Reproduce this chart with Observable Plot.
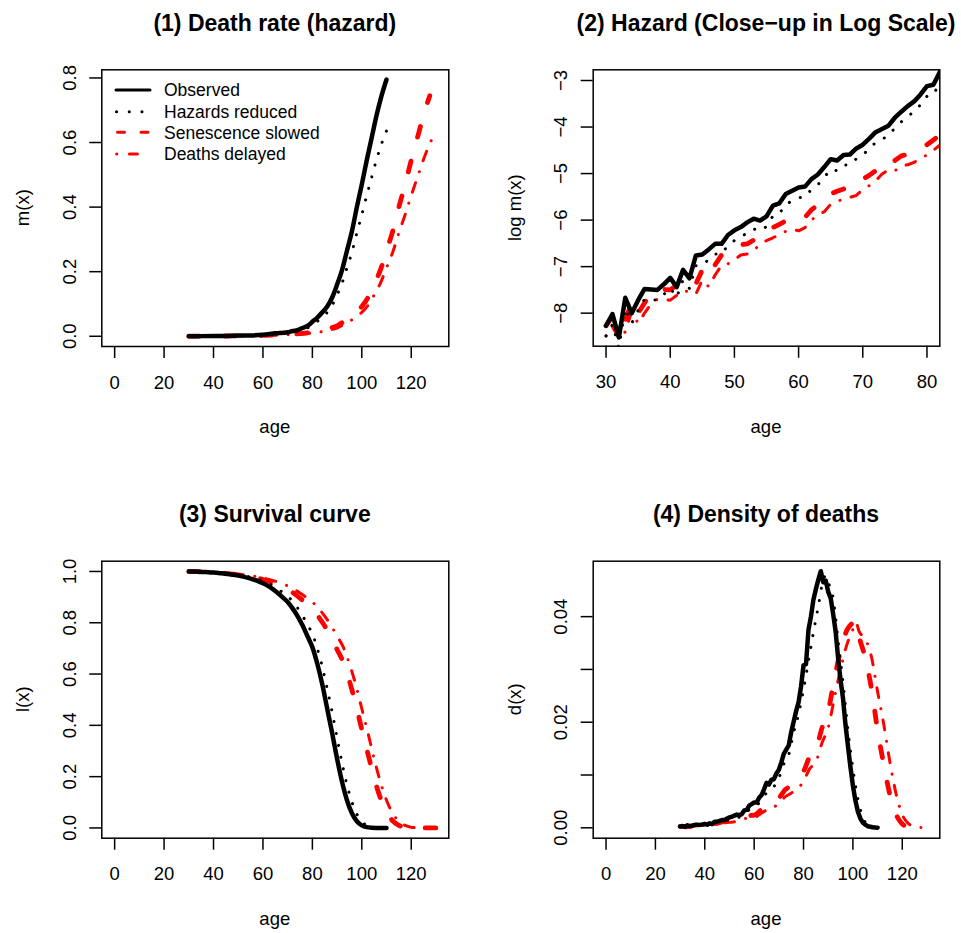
<!DOCTYPE html>
<html><head><meta charset="utf-8">
<script src="https://cdn.jsdelivr.net/npm/d3@7"></script>
<script src="https://cdn.jsdelivr.net/npm/@observablehq/plot@0.6"></script>
<style>
body{margin:0;background:#fff;}
#page{position:relative;width:961px;height:933px;overflow:hidden;background:#fff;font-family:"Liberation Sans",Arial,sans-serif;}
.panel{position:absolute;}
#overlay{position:absolute;left:0;top:0;pointer-events:none;}
</style></head><body><div id="page"></div>
<script>
// ---------- data ----------
const ages = [30,31,32,33,34,35,36,37,38,39,40,41,42,43,44,45,46,47,48,49,50,51,52,53,54,55,56,57,58,59,60,61,62,63,64,65,66,67,68,69,70,71,72,73,74,75,76,77,78,79,80,81,82,83,84,85,86,87,88,89,90,91,92,93,94,95,96,97,98,99,100,101,102,103,104,105,106,107,108,109,110];

// (1) hazard m(x)
const hazAge = [30,35,40,45,50,55,60,65,70,72,74,76,78,80,82,84,86,88,90,92,94,96,98,100,102,104,106,108,110];
const hazObserved = [0.00026,0.00043,0.00072,0.00117,0.002,0.0027,0.005,0.0092,0.0125,0.0164,0.0189,0.0255,0.0318,0.045,0.058,0.074,0.092,0.12,0.16,0.205,0.265,0.325,0.40,0.47,0.545,0.615,0.685,0.745,0.795];
const hazReduced = [0.0002,0.00034,0.00058,0.00094,0.0016,0.0022,0.004,0.0074,0.01,0.0131,0.0151,0.0204,0.0254,0.036,0.046,0.059,0.074,0.096,0.128,0.164,0.212,0.26,0.32,0.376,0.436,0.492,0.548,0.596,0.636];
const hazAgeLate = [30,40,50,60,70,80,82.5,85,87.5,90,92.5,95,97.5,100,102.5,105,107.5,110,112.5,115,117.5,120,122.5,125,127.5,130];
const hazSlowed = [0.00026,0.00055,0.0013,0.0025,0.006,0.0125,0.0164,0.0189,0.0255,0.0318,0.045,0.058,0.074,0.092,0.12,0.16,0.205,0.265,0.325,0.40,0.47,0.545,0.615,0.685,0.745];
const hazDelayed = [0.00021,0.00044,0.00104,0.002,0.0048,0.01,0.0131,0.0151,0.0204,0.0254,0.036,0.046,0.059,0.074,0.096,0.128,0.164,0.212,0.26,0.32,0.376,0.436,0.492,0.548,0.596,0.636];

// (2) log hazard, ages 30..82
const logObserved = [-8.27,-8.02,-8.52,-7.67,-8.0,-7.72,-7.48,-7.49,-7.50,-7.38,-7.24,-7.44,-7.07,-7.25,-6.76,-6.74,-6.63,-6.51,-6.51,-6.32,-6.22,-6.15,-6.05,-5.97,-6.01,-5.92,-5.69,-5.64,-5.44,-5.37,-5.30,-5.28,-5.12,-5.02,-4.86,-4.69,-4.72,-4.60,-4.59,-4.46,-4.38,-4.25,-4.11,-4.04,-3.97,-3.80,-3.67,-3.55,-3.45,-3.30,-3.12,-3.09,-2.82];
const logReduced = [-8.49,-8.24,-8.74,-7.89,-8.22,-7.94,-7.70,-7.71,-7.72,-7.60,-7.46,-7.66,-7.29,-7.47,-6.98,-6.96,-6.85,-6.73,-6.73,-6.54,-6.44,-6.37,-6.27,-6.19,-6.23,-6.14,-5.91,-5.86,-5.66,-5.59,-5.52,-5.50,-5.34,-5.24,-5.08,-4.91,-4.94,-4.82,-4.81,-4.68,-4.60,-4.47,-4.33,-4.26,-4.19,-4.02,-3.89,-3.77,-3.67,-3.52,-3.34,-3.31,-3.04];
const logSlowed = [-8.27,-8.07,-8.32,-8.18,-7.74,-8.0,-7.78,-7.58,-7.48,-7.49,-7.50,-7.40,-7.30,-7.32,-7.37,-7.07,-7.21,-6.96,-6.75,-6.72,-6.63,-6.53,-6.51,-6.43,-6.30,-6.22,-6.16,-6.09,-6.02,-5.98,-6.01,-5.94,-5.78,-5.67,-5.60,-5.44,-5.38,-5.33,-5.29,-5.25,-5.12,-5.04,-4.94,-4.79,-4.70,-4.72,-4.62,-4.59,-4.54,-4.45,-4.38,-4.28,-4.17];
const logDelayed = [-8.49,-8.29,-8.54,-8.40,-7.96,-8.22,-8.00,-7.80,-7.70,-7.71,-7.72,-7.62,-7.52,-7.54,-7.59,-7.29,-7.43,-7.18,-6.97,-6.94,-6.85,-6.75,-6.73,-6.65,-6.52,-6.44,-6.38,-6.31,-6.24,-6.20,-6.23,-6.16,-6.00,-5.89,-5.82,-5.66,-5.60,-5.55,-5.51,-5.47,-5.34,-5.26,-5.16,-5.01,-4.92,-4.94,-4.84,-4.81,-4.76,-4.67,-4.60,-4.50,-4.39];

// (3) survival l(x)
const survAge = [30,32,34,36,38,40,42,44,46,48,50,52,54,56,58,60,62,64,66,68,70,72,74,76,78,80,82,84,86,88,90,92,94,96,98,100,102,104,106,108,110];
const survAgeLate = [30,32.5,35,37.5,40,42.5,45,47.5,50,52.5,55,57.5,60,62.5,65,67.5,70,72.5,75,77.5,80,82.5,85,87.5,90,92.5,95,97.5,100,102.5,105,107.5,110,112.5,115,117.5,120,122.5,125,127.5,130];
const survObserved = [1.000,0.9996,0.999,0.998,0.997,0.9956,0.994,0.992,0.990,0.987,0.984,0.980,0.975,0.969,0.962,0.954,0.944,0.931,0.916,0.899,0.881,0.856,0.826,0.79,0.748,0.705,0.64,0.56,0.465,0.37,0.27,0.18,0.108,0.057,0.026,0.01,0.003,0.0008,0.0002,0.00005,0.00001];
const survReduced = [1.000,0.9997,0.9992,0.9984,0.9976,0.9965,0.9952,0.9936,0.992,0.9896,0.9872,0.984,0.980,0.975,0.9695,0.963,0.955,0.944,0.932,0.918,0.904,0.883,0.858,0.828,0.793,0.756,0.700,0.629,0.542,0.452,0.351,0.254,0.168,0.101,0.054,0.025,0.0095,0.0033,0.0011,0.0004,0.0001];
const survSlowed = [1.000,0.9995,0.99875,0.9975,0.99625,0.9945,0.9925,0.990,0.9875,0.9838,0.980,0.975,0.9688,0.9614,0.9527,0.9428,0.9305,0.9145,0.8961,0.8754,0.8535,0.8233,0.7874,0.7448,0.6956,0.646,0.5724,0.4844,0.384,0.2885,0.1946,0.1173,0.0619,0.0278,0.0104,0.0032,0.0007,0.0001,0,0,0];
const survDelayed = [1.000,0.9996,0.999,0.998,0.997,0.9956,0.994,0.992,0.990,0.987,0.984,0.980,0.975,0.969,0.962,0.954,0.944,0.931,0.916,0.899,0.881,0.856,0.826,0.79,0.748,0.705,0.64,0.56,0.465,0.37,0.27,0.18,0.108,0.057,0.026,0.01,0.003,0.0008,0.0002,0.00005,0.00001];

// (4) density of deaths d(x)
const densObserved = [0.00026,0.00033,0.0002,0.00047,0.00032,0.00043,0.00056,0.00056,0.00055,0.00062,0.00072,0.00059,0.00085,0.0007,0.00115,0.00117,0.0013,0.00147,0.00147,0.00177,0.00197,0.0021,0.0023,0.0025,0.0024,0.0026,0.0033,0.0034,0.0042,0.0045,0.0048,0.0048,0.0057,0.0062,0.0073,0.0085,0.0082,0.0091,0.0092,0.0103,0.011,0.0124,0.014,0.0148,0.0156,0.0181,0.0201,0.0221,0.0238,0.0268,0.0308,0.0310,0.0375,0.0400,0.0432,0.0452,0.0470,0.0486,0.0465,0.0468,0.0447,0.0435,0.0405,0.0372,0.0322,0.0280,0.0245,0.0195,0.0155,0.0115,0.0080,0.0052,0.0031,0.0018,0.0010,0.0006,0.0003,0.0002,0.0001,0.00005,0.00002];
const densRedAge = [30,32,34,36,38,40,42,44,46,48,50,52,54,56,58,60,62,64,66,68,70,72,74,76,78,80,82,84,86,88,89,90,92,94,96,98,100,102,104,106,108,110];
const densReduced = [0.0002,0.00017,0.00026,0.00045,0.00044,0.00058,0.00068,0.00093,0.00105,0.0012,0.0016,0.0019,0.002,0.0027,0.0034,0.004,0.0047,0.0061,0.0069,0.0078,0.0094,0.0121,0.0138,0.018,0.0215,0.0262,0.0316,0.037,0.042,0.047,0.0478,0.0465,0.0435,0.0355,0.0275,0.0185,0.0112,0.0055,0.002,0.0006,0.0002,0.0001];
const densAgeLate = [30,32.5,35,37.5,40,42.5,45,47.5,50,52.5,55,57.5,60,62.5,65,67.5,70,72.5,75,77.5,80,82.5,85,87.5,90,92.5,95,97.5,100,101.25,102.5,105,107.5,110,112.5,115,117.5,120,122.5,125,127.5,130];
const densSlowed = [0.00026,0.0002,0.00032,0.00056,0.00055,0.00072,0.00085,0.00115,0.0013,0.00147,0.00196,0.00229,0.00238,0.00327,0.00416,0.00474,0.00562,0.00717,0.00802,0.00896,0.01066,0.01347,0.01487,0.01895,0.02213,0.02822,0.03354,0.03737,0.03881,0.03905,0.03627,0.03222,0.02638,0.01846,0.01197,0.00622,0.00253,0.00073,0.00017,0.00004,0.00001,0];
const densDelayed = [0.00021,0.00016,0.00026,0.00045,0.00044,0.00058,0.00068,0.00092,0.00104,0.00118,0.00158,0.00184,0.00192,0.00264,0.00336,0.00384,0.00456,0.00584,0.00656,0.00736,0.0088,0.0112,0.0125,0.0161,0.019,0.0246,0.030,0.0346,0.0376,0.0389,0.0372,0.0358,0.0324,0.0258,0.0196,0.0124,0.0064,0.0025,0.0008,0.00024,0.00008,0.00002];

const seriesNames = ["Observed","Hazards reduced","Senescence slowed","Deaths delayed"];
const ageTicks = [0,20,40,60,80,100,120];
const closeAgeTicks = [30,40,50,60,70,80];
const hazTicks = [0,0.2,0.4,0.6,0.8];
const logTicks = [-8,-7,-6,-5,-4,-3];
const survTicks = [0,0.2,0.4,0.6,0.8,1];
const densTicks = [0,0.01,0.02,0.03,0.04];

// ---------- drawing ----------
const FONT = '"Liberation Sans", Arial, sans-serif';
const pts = (xs, ys) => ys.map((y, i) => ({x: xs[i], y}));
const STY = {
  obs:  {stroke: "black", w: 4.5, dash: null},
  red:  {stroke: "black", w: 3, dash: "0.1 11.9"},
  slow: {stroke: "#ff0000", w: 4.8, dash: "11 25"},
  del:  {stroke: "#ff0000", w: 3, dash: "0.1 11.5 10 11.5"}
};
const minus = d => d < 0 ? "\u2212" + Math.abs(d) : String(d);

function panel(o) {
  const marks = [
    Plot.frame({stroke: "black", strokeWidth: 1.5}),
    Plot.axisX({ticks: o.xTicks, tickSize: 12, tickPadding: 17, tickFormat: d => String(d), label: null, fontSize: 18.5, strokeWidth: 1.5}),
    Plot.axisY({ticks: o.yTicks, tickSize: 12, tickPadding: 14.3, tickRotate: -90, textAnchor: "middle", lineAnchor: "bottom", tickFormat: o.yFmt, label: null, fontSize: 18.5, strokeWidth: 1.5}),
    ...o.series.map(s => Plot.line(s.data, {
      x: "x", y: "y", stroke: s.st.stroke, strokeWidth: s.st.w,
      strokeDasharray: s.st.dash || undefined, strokeLinecap: "round", strokeLinejoin: "round",
      curve: s.curve || "linear", clip: true
    }))
  ];
  const svg = Plot.plot({
    width: o.width, height: o.height,
    marginTop: o.mt, marginBottom: o.mb, marginLeft: o.ml, marginRight: o.mr,
    x: {domain: o.xDomain}, y: {domain: o.yDomain},
    style: {fontFamily: FONT, fontSize: "18px", color: "black", background: "transparent", overflow: "visible"},
    marks
  });
  svg.classList.add("panel");
  svg.style.left = o.left + "px";
  svg.style.top = o.top + "px";
  document.getElementById("page").appendChild(svg);
}

const fmt1 = d => d.toFixed(1);

panel({left: 0, top: 0, width: 480, height: 466, mt: 69.3, mb: 120, ml: 101.3, mr: 31.7,
  xDomain: [-5.2, 135.2], yDomain: [-0.0317, 0.8252], xTicks: ageTicks, yTicks: hazTicks, yFmt: fmt1,
  series: [
    {data: pts(hazAgeLate, hazDelayed), st: STY.del, curve: "monotone-x"},
    {data: pts(hazAgeLate, hazSlowed), st: STY.slow, curve: "monotone-x"},
    {data: pts(hazAge, hazReduced), st: STY.red, curve: "monotone-x"},
    {data: pts(hazAge, hazObserved), st: STY.obs, curve: "monotone-x"}
  ]});

const closeAges = ages.slice(0, logObserved.length);
panel({left: 480, top: 0, width: 481, height: 466, mt: 69.3, mb: 120.3, ml: 112.7, mr: 21.7,
  xDomain: [28, 82], yDomain: [-8.71, -2.77], xTicks: closeAgeTicks, yTicks: logTicks, yFmt: minus,
  series: [
    {data: pts(closeAges, logDelayed), st: STY.del},
    {data: pts(closeAges, logSlowed), st: STY.slow},
    {data: pts(closeAges, logReduced), st: STY.red},
    {data: pts(closeAges, logObserved), st: STY.obs}
  ]});

panel({left: 0, top: 466, width: 480, height: 467, mt: 94.7, mb: 95.3, ml: 101.3, mr: 31.7,
  xDomain: [-5.2, 135.2], yDomain: [-0.04, 1.04], xTicks: ageTicks, yTicks: survTicks, yFmt: fmt1,
  series: [
    {data: pts(survAgeLate, survDelayed), st: STY.del, curve: "monotone-x"},
    {data: pts(survAgeLate, survSlowed), st: STY.slow, curve: "monotone-x"},
    {data: pts(survAge, survReduced), st: STY.red, curve: "monotone-x"},
    {data: pts(survAge, survObserved), st: STY.obs, curve: "monotone-x"}
  ]});

panel({left: 480, top: 466, width: 481, height: 467, mt: 94.7, mb: 95.3, ml: 112.7, mr: 21.7,
  xDomain: [-5.2, 135.2], yDomain: [-0.00197, 0.0505], xTicks: ageTicks, yTicks: densTicks,
  yFmt: d => (Math.round(d * 100) % 2 === 0 ? d.toFixed(2) : ""),
  series: [
    {data: pts(densAgeLate, densDelayed), st: STY.del, curve: "monotone-x"},
    {data: pts(densAgeLate, densSlowed), st: STY.slow, curve: "monotone-x"},
    {data: pts(densRedAge, densReduced), st: STY.red, curve: "monotone-x"},
    {data: pts(ages, densObserved), st: STY.obs}
  ]});

// ---------- titles, axis titles, legend ----------
const NS = "http://www.w3.org/2000/svg";
const ov = document.createElementNS(NS, "svg");
ov.setAttribute("id", "overlay");
ov.setAttribute("width", 961);
ov.setAttribute("height", 933);
ov.style.fontFamily = FONT;
document.getElementById("page").appendChild(ov);
function txt(s, x, y, size, opts = {}) {
  const t = document.createElementNS(NS, "text");
  t.textContent = s;
  t.setAttribute("x", x); t.setAttribute("y", y);
  t.setAttribute("font-size", size);
  t.setAttribute("fill", "black");
  t.setAttribute("text-anchor", opts.anchor || "middle");
  if (opts.bold) t.setAttribute("font-weight", "bold");
  if (opts.rotate) t.setAttribute("transform", `rotate(${opts.rotate} ${x} ${y})`);
  ov.appendChild(t);
}
const titles = ["(1) Death rate (hazard)", "(2) Hazard (Close\u2212up in Log Scale)", "(3) Survival curve", "(4) Density of deaths"];
const yTitles = ["m(x)", "log m(x)", "l(x)", "d(x)"];
const cx = [274.8, 766], boxL = [101.3, 592.7], boxTop = [69.3, 560.7], boxBot = [346, 837.7];
for (let r = 0; r < 2; r++) for (let c = 0; c < 2; c++) {
  const k = r * 2 + c;
  txt(titles[k], cx[c], boxTop[r] - 38.5, 23, {bold: true});
  txt("age", cx[c], boxBot[r] + 87, 18.5);
  txt(yTitles[k], boxL[c] - 72, (boxTop[r] + boxBot[r]) / 2, 18.5, {rotate: -90});
}
// legend
const legY = [90, 111.7, 132.3, 154];
const legLines = [
  {x1: 116, x2: 150, stroke: "black", dash: null},
  {x1: 116.5, x2: 150, stroke: "black", dash: "0.1 12.6"},
  {x1: 117.5, x2: 150, stroke: "#ff0000", dash: "7 16.5"},
  {x1: 116.7, x2: 145, stroke: "#ff0000", dash: "0.1 12.6 8 12.3"}
];
legLines.forEach((l, i) => {
  const ln = document.createElementNS(NS, "line");
  ln.setAttribute("x1", l.x1); ln.setAttribute("x2", l.x2);
  ln.setAttribute("y1", legY[i]); ln.setAttribute("y2", legY[i]);
  ln.setAttribute("stroke", l.stroke); ln.setAttribute("stroke-width", 3);
  ln.setAttribute("stroke-linecap", "round");
  if (l.dash) ln.setAttribute("stroke-dasharray", l.dash);
  ov.appendChild(ln);
  txt(seriesNames[i], 164, legY[i] + 6.3, 17.5, {anchor: "start"});
});
</script>
</body></html>
